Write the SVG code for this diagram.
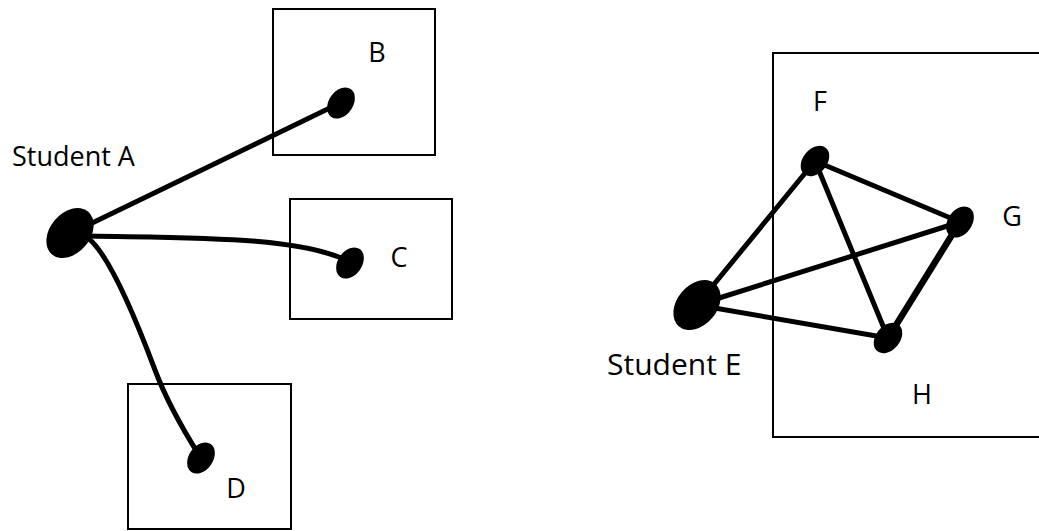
<svg xmlns="http://www.w3.org/2000/svg" width="1039" height="531" viewBox="0 0 1039 531">
<style>
.box{fill:none;stroke:#000;stroke-width:2}
.edge{fill:none;stroke:#000;stroke-width:5;stroke-linecap:round}
.dot{fill:#000}
.lbl{font-family:"Open Sans","Liberation Sans",sans-serif;font-size:27px;fill:#000}
.mid{text-anchor:middle}
</style>
<rect width="1039" height="531" fill="#fff"/>
<g id="boxes">
<rect id="boxB" class="box" x="273" y="9" width="162" height="146"/>
<rect id="boxC" class="box" x="290" y="199" width="162" height="120"/>
<rect id="boxD" class="box" x="128" y="384" width="163" height="145"/>
<rect id="boxRight" class="box" x="773" y="53" width="280" height="384"/>
</g>
<g id="connectors">
<path class="edge" d="M88,225 L338,104"/>
<path class="edge" d="M90,236 C190,238 300,236 350,262"/>
<path class="edge" d="M88,238 C110,255 140,330 155,370 C167,402 182,428 199,455"/>
<path class="edge" d="M697,305 L815,161"/>
<path class="edge" d="M697,305 L960,222"/>
<path class="edge" d="M697,305 L888,338"/>
<path class="edge" d="M815,161 L960,222"/>
<path class="edge" d="M815,161 L888,338"/>
<path class="edge" d="M960,222 L888,338" style="stroke-width:6.5"/>
</g>
<g id="nodeA">
<ellipse class="dot" cx="0" cy="0" rx="28" ry="20" transform="translate(70,233) rotate(-50)"/>
<text class="lbl" x="12" y="166">Student A</text>
</g>
<g id="nodeB">
<ellipse class="dot" cx="0" cy="0" rx="17" ry="12" transform="translate(341,103) rotate(-55)"/>
<text class="lbl mid" x="377" y="62">B</text>
</g>
<g id="nodeC">
<ellipse class="dot" cx="0" cy="0" rx="17" ry="12" transform="translate(350,263) rotate(-55)"/>
<text class="lbl mid" x="399" y="267">C</text>
</g>
<g id="nodeD">
<ellipse class="dot" cx="0" cy="0" rx="17" ry="12" transform="translate(201,458) rotate(-55)"/>
<text class="lbl mid" x="236" y="498">D</text>
</g>
<g id="nodeE">
<ellipse class="dot" cx="0" cy="0" rx="28" ry="20" transform="translate(697,305) rotate(-50)"/>
<text class="lbl" x="607" y="375" style="font-size:30px">Student E</text>
</g>
<g id="nodeF">
<ellipse class="dot" cx="0" cy="0" rx="17" ry="12" transform="translate(815,161) rotate(-50)"/>
<text class="lbl mid" x="820" y="111">F</text>
</g>
<g id="nodeG">
<ellipse class="dot" cx="0" cy="0" rx="17" ry="12" transform="translate(960,222) rotate(-55)"/>
<text class="lbl mid" x="1012" y="226">G</text>
</g>
<g id="nodeH">
<ellipse class="dot" cx="0" cy="0" rx="17" ry="12" transform="translate(888,338) rotate(-50)"/>
<text class="lbl mid" x="922" y="404">H</text>
</g>
</svg>
